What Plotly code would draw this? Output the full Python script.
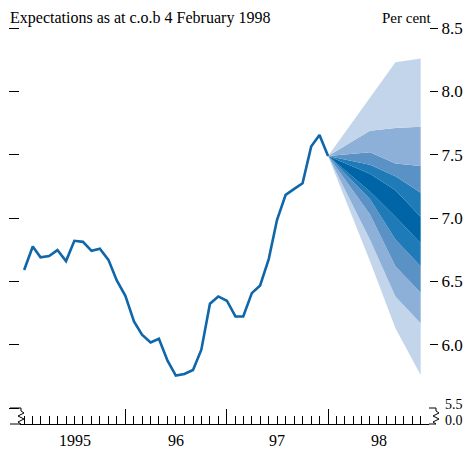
import pandas as pd
import plotly.graph_objects as go

# ---- data ----
hist_dates = pd.date_range("1995-01-01", "1998-01-01", freq="MS")
hist_vals = [6.59, 6.775, 6.69, 6.70, 6.747, 6.66, 6.82, 6.812, 6.741, 6.757, 6.67, 6.507,
             6.386, 6.184, 6.079, 6.018, 6.047, 5.874, 5.756, 5.769, 5.80, 5.96, 6.323, 6.381,
             6.347, 6.223, 6.223, 6.407, 6.468, 6.676, 6.986, 7.183, 7.23, 7.275, 7.564, 7.656,
             7.49]

fan_dates = ["1998-01-01", "1998-06-01", "1998-09-01", "1998-12-01"]
# band boundaries from top (b0) to bottom (b9)
b0 = [7.49, 7.95, 8.23, 8.26]
b1 = [7.49, 7.69, 7.71, 7.72]
b2 = [7.49, 7.52, 7.43, 7.41]
b3 = [7.49, 7.42, 7.33, 7.20]
b4 = [7.49, 7.35, 7.22, 7.01]
b5 = [7.49, 7.21, 7.01, 6.80]
b6 = [7.49, 7.15, 6.83, 6.62]
b7 = [7.49, 7.03, 6.62, 6.41]
b8 = [7.49, 6.83, 6.38, 6.17]
b9 = [7.49, 6.66, 6.13, 5.76]

year_label_dates = ["1995-07-02", "1996-07-02", "1997-07-02", "1998-07-02"]
year_labels = ["1995", "96", "97", "98"]
ytick_vals = [6.0, 6.5, 7.0, 7.5, 8.0, 8.5]
ytick_text = ["6.0", "6.5", "7.0", "7.5", "8.0", "8.5"]

# ---- style ----
C_LIGHT = "#c3d5ea"
C_L2 = "#8db0d8"
C_MID = "#5b92c5"
C_MD = "#1f7ab8"
C_DARK = "#0065a6"
LINE = "#0f66a9"
FONT = "Liberation Serif"

fig = go.Figure()

bounds = [b9, b8, b7, b6, b5, b4, b3, b2, b1, b0]
fills = [None, C_LIGHT, C_L2, C_MID, C_MD, C_DARK, C_MD, C_MID, C_L2, C_LIGHT]
for vals, col in zip(bounds, fills):
    fig.add_trace(go.Scatter(
        x=fan_dates, y=vals, mode="lines", line=dict(width=0, color=col or "rgba(0,0,0,0)"),
        fill=None if col is None else "tonexty", fillcolor=col,
        hoverinfo="skip", showlegend=False))

fig.add_trace(go.Scatter(x=hist_dates, y=hist_vals, mode="lines",
                         line=dict(color=LINE, width=2.6), showlegend=False, yaxis="y2"))

# plot area: x 20..429, y 28..424 (px)
L, R, T, B = 20, 40, 28, 26
W, H = 469, 450
PW, PH = W - L - R, H - T - B


def px(x):
    return (x - L) / PW


def py(y):
    return (T + PH - y) / PH


ymin = 5.5 - 16 / (380 / 3.0)
yr = [ymin, 8.5005]

month_ticks = [d.strftime("%Y-%m-%d") for d in pd.date_range("1995-01-01", "1998-12-01", freq="MS")
               if d.month != 1 or d.year == 1995]

fig.update_layout(
    width=W, height=H, margin=dict(l=L, r=R, t=T, b=B, autoexpand=False),
    plot_bgcolor="white", paper_bgcolor="white",
    font=dict(family=FONT, size=16, color="black"),
    xaxis=dict(type="date", range=["1994-12-17", "1998-12-31"], showline=True, linecolor="black",
               linewidth=1, ticks="inside", ticklen=15, tickcolor="black", tickwidth=1,
               tickvals=["1996-01-01", "1997-01-01", "1998-01-01"], showticklabels=False,
               showgrid=False, zeroline=False, automargin=False,
               minor=dict(tickmode="array", tickvals=month_ticks, ticks="inside", ticklen=8,
                          tickcolor="black", tickwidth=1, showgrid=False)),
    yaxis=dict(range=yr, tickvals=[5.5] + ytick_vals, ticks="outside", ticklen=10, tickcolor="black",
               showticklabels=False, showgrid=False, zeroline=False, showline=False, automargin=False),
    yaxis2=dict(range=yr, overlaying="y", side="right", tickvals=ytick_vals, ticktext=ytick_text,
                ticks="outside", ticklen=8, tickcolor="black", showgrid=False, zeroline=False,
                showline=False, automargin=False, tickfont=dict(family=FONT, size=17)),
)

for d, t in zip(year_label_dates, year_labels):
    fig.add_annotation(x=d, y=py(441), xref="x", yref="paper", text=t, showarrow=False,
                       xanchor="center", yanchor="middle", font=dict(size=16))

fig.add_annotation(x=px(8), y=py(18), xref="paper", yref="paper",
                   text="Expectations as at c.o.b 4 February 1998", showarrow=False,
                   xanchor="left", yanchor="middle", font=dict(size=16))
fig.add_annotation(x=px(434), y=py(18), xref="paper", yref="paper", text="Per cent",
                   showarrow=False, xanchor="right", yanchor="middle", font=dict(size=15))
fig.add_annotation(x=px(444), y=py(404), xref="paper", yref="paper", text="5.5", borderpad=0,
                   showarrow=False, xanchor="left", yanchor="middle", font=dict(size=14))
fig.add_annotation(x=px(444), y=py(420), xref="paper", yref="paper", text="0.0", borderpad=0,
                   showarrow=False, xanchor="left", yanchor="middle", font=dict(size=14))


def path(pts):
    return "M " + " L ".join(f"{px(a):.5f},{py(b):.5f}" for a, b in pts)


left = [(10, 408), (21, 408), (21, 411), (24, 413), (18, 416), (24, 419), (18, 422), (21, 424)]
right = [(429, 408), (436, 408), (436, 411), (439, 413), (433, 416), (439, 419), (433, 422), (436, 424)]
for pts in (left, right):
    fig.add_shape(type="path", path=path(pts), xref="paper", yref="paper",
                  line=dict(color="black", width=1))
fig.add_shape(type="line", x0=px(10), x1=px(20), y0=py(424), y1=py(424), xref="paper", yref="paper",
              line=dict(color="black", width=1))
fig.add_shape(type="line", x0=px(429), x1=px(436), y0=py(424), y1=py(424), xref="paper", yref="paper",
              line=dict(color="black", width=1))

fig.write_html("out.html", config={"displayModeBar": False},
               post_script="document.body.style.margin='0';document.body.style.overflow='hidden';")
